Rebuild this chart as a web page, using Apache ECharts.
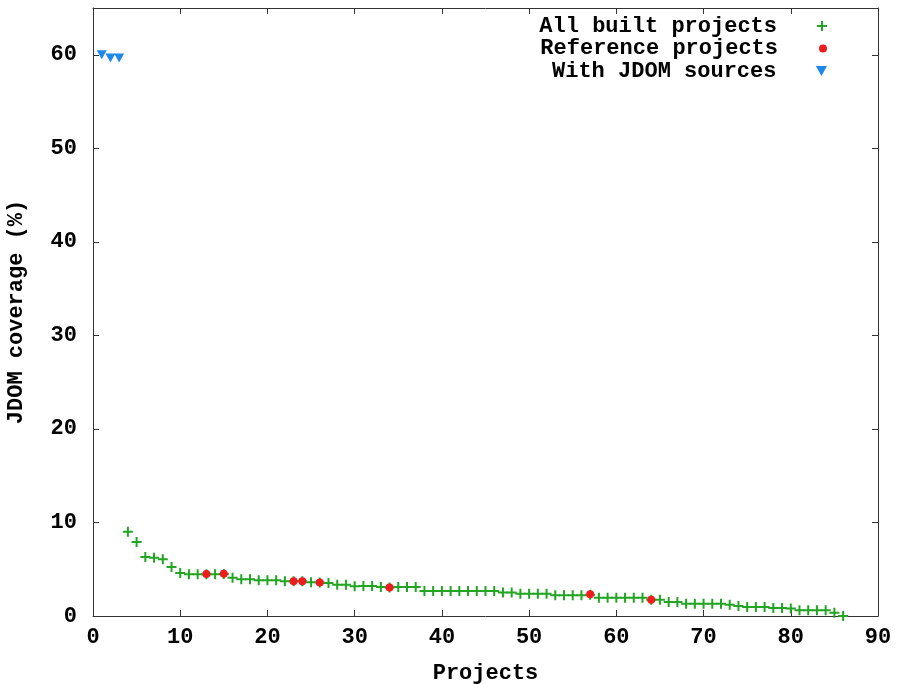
<!DOCTYPE html>
<html>
<head>
<meta charset="utf-8">
<script src="https://cdn.jsdelivr.net/npm/echarts@6/dist/echarts.min.js"></script>
<style>
html,body{margin:0;padding:0;background:#fff;}
#chart{width:902px;height:684px;}
</style>
</head>
<body>
<div id="chart"></div>
<script>
// All built projects: x = project rank, y = JDOM coverage (%)
const allX = [4,5,6,7,8,9,10,11,12,13,14,15,16,17,18,19,20,21,22,23,24,25,26,27,28,29,30,31,32,33,34,35,36,37,38,39,40,41,42,43,44,45,46,47,48,49,50,51,52,53,54,55,56,57,58,59,60,61,62,63,64,65,66,67,68,69,70,71,72,73,74,75,76,77,78,79,80,81,82,83,84,85,86];
const allY = [9.0,7.9,6.3,6.24,6.06,5.24,4.6,4.46,4.46,4.46,4.46,4.5,4.1,3.92,3.92,3.82,3.82,3.82,3.71,3.71,3.71,3.6,3.57,3.53,3.35,3.35,3.18,3.2,3.2,3.1,3.05,3.1,3.1,3.1,2.67,2.67,2.67,2.67,2.67,2.67,2.67,2.67,2.67,2.5,2.5,2.39,2.39,2.39,2.39,2.21,2.21,2.21,2.21,2.28,1.96,1.96,1.96,1.96,1.96,1.96,1.75,1.75,1.5,1.5,1.32,1.32,1.32,1.32,1.32,1.21,1.07,0.96,0.96,0.96,0.86,0.86,0.79,0.61,0.61,0.61,0.61,0.36,0.0];
// Reference projects
const refX = [13,15,23,24,26,34,57,64];
const refY = [4.48,4.53,3.72,3.72,3.57,3.05,2.32,1.75];
// With JDOM sources
const srcX = [1,2,3];
const srcY = [60.0,59.65,59.65];

const xTicks = {min:0, max:90, interval:10};
const yTicks = {min:0, max:65, interval:10};
const seriesNames = ['All built projects','Reference projects','With JDOM sources'];

const FONT = 'Liberation Mono';
const txt = {fontFamily: FONT, fontSize: 22, fontWeight: 'bold', color: '#000'};
const zip = (xs, ys) => xs.map((x, i) => [x, ys[i]]);

const plusPath = 'path://M4,0h2v4h4v2h-4v4h-2v-4h-4v-2h4z';
const triPath = 'path://M0,0L10,0L5,9Z';

const axisLine = {show: true, onZero: false, lineStyle: {color: '#333', width: 1}};
const tick = {show: true, inside: true, length: 6, lineStyle: {color: '#333'}};

function legendFor(name, top, icon, h) {
  return {
    data: [{name: name, icon: icon}],
    right: 75, top: top, padding: 0,
    orient: 'vertical', align: 'right',
    itemWidth: 80, itemHeight: h,
    textStyle: Object.assign({}, txt, {lineHeight: 20}),
    selectedMode: false
  };
}

const chart = echarts.init(document.getElementById('chart'));
chart.setOption({
  animation: false,
  backgroundColor: '#fff',
  grid: {left: 93, right: 24, top: 8, bottom: 68, containLabel: false, outerBoundsMode: 'none'},
  legend: [
    legendFor(seriesNames[0], 15, plusPath, 10),
    legendFor(seriesNames[1], 37.5, 'circle', 8),
    legendFor(seriesNames[2], 60, triPath, 10)
  ],
  xAxis: [
    {type: 'value', min: xTicks.min, max: xTicks.max, interval: xTicks.interval,
     name: 'Projects', nameLocation: 'middle', nameGap: 46, nameTextStyle: txt,
     axisLine: axisLine, axisTick: tick, splitLine: {show: false},
     axisLabel: Object.assign({margin: 10}, txt)},
    {type: 'value', position: 'top', min: xTicks.min, max: xTicks.max, interval: xTicks.interval,
     axisLine: axisLine, axisTick: tick, splitLine: {show: false}, axisLabel: {show: false}}
  ],
  yAxis: [
    {type: 'value', min: yTicks.min, max: yTicks.max, interval: yTicks.interval,
     name: 'JDOM coverage (%)', nameLocation: 'middle', nameGap: 66, nameTextStyle: txt,
     axisLine: axisLine, axisTick: tick, splitLine: {show: false},
     axisLabel: Object.assign({margin: 16, showMaxLabel: false}, txt)},
    {type: 'value', position: 'right', min: yTicks.min, max: yTicks.max, interval: yTicks.interval,
     axisLine: axisLine, axisTick: tick, splitLine: {show: false}, axisLabel: {show: false}}
  ],
  series: [
    {name: seriesNames[0], type: 'scatter', data: zip(allX, allY),
     symbol: plusPath, symbolSize: 10, symbolKeepAspect: true,
     itemStyle: {color: '#22a522', opacity: 1}, z: 2},
    {name: seriesNames[1], type: 'scatter', data: zip(refX, refY),
     symbol: 'circle', symbolSize: 8,
     itemStyle: {color: '#ee1c1c', opacity: 1}, z: 3},
    {name: seriesNames[2], type: 'scatter', data: zip(srcX, srcY),
     symbol: triPath, symbolSize: 10, symbolKeepAspect: true,
     itemStyle: {color: '#1e88e8', opacity: 1}, z: 4}
  ]
});
</script>
</body>
</html>
